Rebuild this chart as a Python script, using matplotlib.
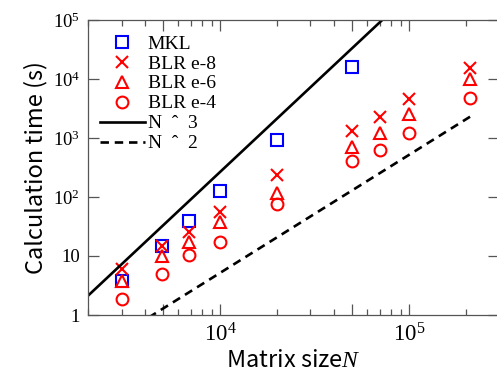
import numpy as np
import matplotlib
matplotlib.use("Agg")
import matplotlib.pyplot as plt

plt.rcParams['mathtext.fontset'] = 'custom'
plt.rcParams['mathtext.rm'] = 'Liberation Serif'
plt.rcParams['mathtext.it'] = 'Liberation Serif:italic'

# matrix sizes and timings (s)
N = [3000, 4900, 6800, 10000, 20000, 50000, 70000, 100000, 210000]
mkl = [3.8, 14.9, 39, 127, 940, 16000]
blr8 = [6.1, 14.6, 26, 56, 236, 1310, 2300, 4530, 15500]
blr6 = [3.8, 10, 17.5, 37, 118, 713, 1230, 2520, 9900]
blr4 = [1.85, 4.9, 10.4, 17.5, 77, 407, 626, 1230, 4710]

# reference slopes
n_line3 = np.array([1000, 1000000])
n_line2 = np.array([2000, 210000])
c3 = 2.68e-10
c2 = 5.2e-8

yticks = [1, 10, 100, 1000, 10000, 100000]
yticklabels = ['1', '10', '$10^2$', '$10^3$', '$10^4$', '$10^5$']
xticks = [5000, 10000, 50000, 100000]
xticklabels = ['', '$10^4$', '', '$10^5$']

fig = plt.figure(figsize=(4.97, 3.75), dpi=100)
ax = fig.add_axes([88.3 / 497, 60 / 375, (499.3 - 88.3) / 497, 295 / 375])

ms = 8.5
ax.plot(N[:len(mkl)], mkl, 's', color='blue', mfc='none', ms=ms, mew=1.5, label='MKL')
ax.plot(N, blr8, 'x', color='red', ms=ms, mew=1.5, label='BLR e-8')
ax.plot(N, blr6, '^', color='red', mfc='none', ms=ms, mew=1.5, label='BLR e-6')
ax.plot(N, blr4, 'o', color='red', mfc='none', ms=ms, mew=1.5, label='BLR e-4')
ax.plot(n_line3, c3 * n_line3 ** 3, '-', color='black', lw=1.9, label='N  ˆ  3')
ax.plot(n_line2, c2 * n_line2 ** 2, color='black', lw=1.9, ls=(0, (3.2, 2.2)), label='N  ˆ  2')

ax.set_xscale('log')
ax.set_yscale('log')
ax.set_xlim(2000, 300000)
ax.set_ylim(1, 100000)

ax.set_yticks(yticks)
ax.set_yticklabels(yticklabels, fontsize=13.5, family='Liberation Serif')
ax.set_xticks(xticks)
ax.set_xticklabels(xticklabels, fontsize=16.5, family='Liberation Serif')
ax.yaxis.set_minor_locator(matplotlib.ticker.NullLocator())
ax.xaxis.set_minor_locator(matplotlib.ticker.LogLocator(base=10, subs=[2, 3, 4, 6, 7, 8, 9]))
ax.xaxis.set_minor_formatter(matplotlib.ticker.NullFormatter())

ax.tick_params(which='both', direction='in', top=True, right=True, color='#555555')
ax.tick_params(which='major', length=8, width=0.9, pad=6)
ax.tick_params(which='minor', length=4.5, width=0.9)
for s in ax.spines.values():
    s.set_color('#555555')
    s.set_linewidth(0.9)

ax.set_ylabel('Calculation time (s)', family='Noto Sans CJK JP', fontsize=17, labelpad=4)
ax.set_xlabel('Matrix size$N$', family='Noto Sans CJK JP', fontsize=17, labelpad=2)

leg = ax.legend(loc='upper left', bbox_to_anchor=(100 / 497, 1 - 35 / 375),
                bbox_transform=fig.transFigure, frameon=False, numpoints=1,
                prop={'family': 'Liberation Serif', 'size': 14},
                handlelength=2.3, handletextpad=0.15, labelspacing=0.12,
                borderpad=0, borderaxespad=0)

fig.savefig('out.png', dpi=100)
